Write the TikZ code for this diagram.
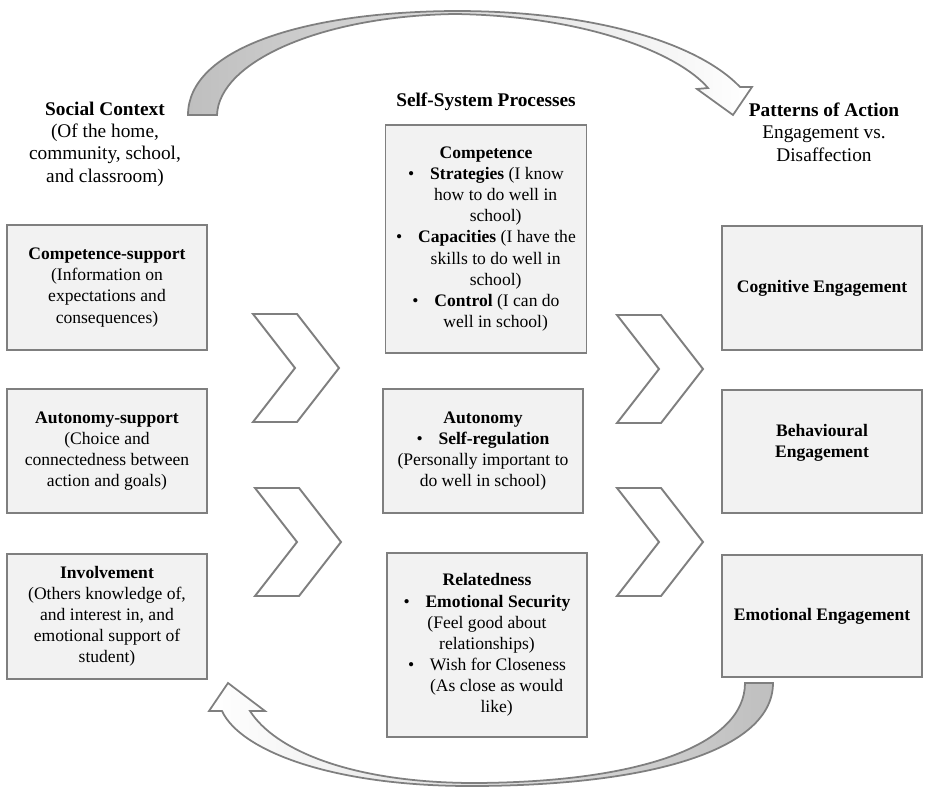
\documentclass[tikz,border=0pt]{standalone}
\usepackage{fontspec}
\setmainfont{Liberation Serif}
\definecolor{boxfill}{HTML}{F2F2F2}
\definecolor{boxline}{HTML}{7F7F7F}
\definecolor{arrowfill}{HTML}{BFBFBF}

\begin{document}
\begin{tikzpicture}[x=0.2mm, y=-0.2mm,
    box/.style={draw=boxline, line width=1.1pt, fill=boxfill, align=center, inner sep=2pt,
        font=\fontsize{10}{12}\selectfont},
    heading/.style={align=center, font=\fontsize{11}{12.7}\selectfont},
    chevron/.style={draw=boxline, line width=1.1pt, fill=white, line join=miter},
    bigarrow/.style={draw=boxline, line width=1pt, line join=miter}]

    \useasboundingbox (0,0) rectangle (925,788);

    % Headings
    \node[heading] (social) at (105,144) {\textbf{Social Context}\\(Of the home,\\community, school,\\and classroom)};
    \node[heading] (selfsys) at (486,102) {\textbf{Self-System Processes}};
    \node[heading] (patterns) at (824,132) {\textbf{Patterns of Action}\\Engagement vs.\\Disaffection};

    % LEFT COLUMN: Social Context
    \node[box, minimum width=4cm, minimum height=2.5cm] (compsup) at (107,287.5)
        {\textbf{Competence-support}\\(Information on\\expectations and\\consequences)};
    \node[box, minimum width=4cm, minimum height=2.48cm] (autosup) at (107,451)
        {\textbf{Autonomy-support}\\(Choice and\\connectedness between\\action and goals)};
    \node[box, minimum width=4cm, minimum height=2.5cm] (involve) at (107,616.5)
        {\textbf{Involvement}\\(Others knowledge of,\\and interest in, and\\emotional support of\\student)};

    % MIDDLE COLUMN: Self-System Processes
    \node[box, minimum width=4.02cm, minimum height=4.56cm] (compet) at (486,239)
        {\textbf{Competence}\\
         \textbullet\hspace{0.9em}\textbf{Strategies} (I know\\
         \hspace*{1.1em}how to do well in\\
         \hspace*{1.1em}school)\\
         \textbullet\hspace{0.9em}\textbf{Capacities} (I have the\\
         \hspace*{1.1em}skills to do well in\\
         \hspace*{1.1em}school)\\
         \textbullet\hspace{0.9em}\textbf{Control} (I can do\\
         \hspace*{1.1em}well in school)};
    \node[box, minimum width=4.0cm, minimum height=2.48cm] (auto) at (483,451)
        {\textbf{Autonomy}\\
         \textbullet\hspace{0.9em}\textbf{Self-regulation}\\
         (Personally important to\\do well in school)};
    \node[box, minimum width=4.0cm, minimum height=3.68cm] (relat) at (487,645)
        {\textbf{Relatedness}\\
         \textbullet\hspace{0.9em}\textbf{Emotional Security}\\
         (Feel good about\\relationships)\\
         \textbullet\hspace{0.9em}Wish for Closeness\\
         \hspace*{1.1em}(As close as would\\
         \hspace*{1.1em}like)};

    % RIGHT COLUMN: Patterns of Action
    \node[box, minimum width=4cm, minimum height=2.48cm, font=\fontsize{10}{12}\selectfont\bfseries] (cogn) at (822,288)
        {Cognitive Engagement};
    \node[box, minimum width=4cm, minimum height=2.46cm, font=\fontsize{10}{12}\selectfont\bfseries] (behav) at (822,451.5)
        {Behavioural\\Engagement\\\mbox{}};
    \node[box, minimum width=4cm, minimum height=2.44cm, font=\fontsize{10}{12}\selectfont\bfseries] (emot) at (822,616)
        {Emotional Engagement};

    % Chevrons between columns
    \foreach \cx/\cy in {253/314, 255/488, 617/315, 617/488}
        \draw[chevron] (\cx,\cy) -- ++(44,0) -- ++(42,54) -- ++(-42,54) -- ++(-44,0) -- ++(42,-54) -- cycle;

    % Curved arrow (top): Social Context -> Patterns of Action
    \shadedraw[bigarrow, left color=arrowfill, middle color=white, right color=white]
        (188,115) .. controls (188,50) and (300,12) .. (455,11)
        .. controls (600,11) and (700,45) .. (740,87)
        -- (752,87) -- (733,115) -- (697,89) -- (708,88)
        .. controls (680,55) and (590,16) .. (455,14)
        .. controls (320,16) and (219,62) .. (217,115) -- cycle;

    % Curved arrow (bottom): Emotional Engagement -> Involvement
    \shadedraw[bigarrow, left color=white, middle color=white, right color=arrowfill]
        (745,683) -- (773,683)
        .. controls (773,750) and (650,786) .. (470,786)
        .. controls (330,786) and (240,750) .. (222,711)
        -- (209,711) -- (228,683) -- (265,711) -- (250,711)
        .. controls (275,750) and (350,782) .. (470,783)
        .. controls (640,783) and (745,745) .. (745,683) -- cycle;

\end{tikzpicture}
\end{document}
